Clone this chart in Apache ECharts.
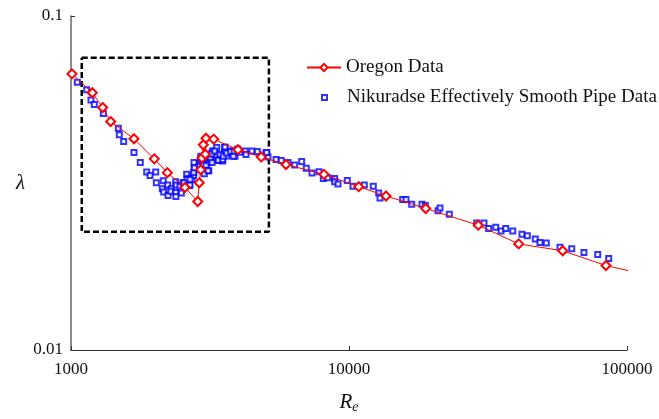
<!DOCTYPE html>
<html>
<head>
<meta charset="utf-8">
<script src="https://cdn.jsdelivr.net/npm/echarts@6/dist/echarts.min.js"></script>
<style>
  html, body { margin: 0; padding: 0; background: #ffffff; }
  #chart { width: 659px; height: 419px; }
</style>
</head>
<body>
<div id="chart"></div>
<script>
// Friction factor vs. Reynolds number (log-log)

// Oregon measurements
const oregonRe = [1008, 1193, 1300, 1389, 1685, 1994, 2221, 2571, 2856, 2894, 2928, 2960, 2992, 3042, 3059, 3262, 3988, 4836, 5934, 8130, 10840, 13590, 18880, 29180, 40770, 58700, 84030];
const oregonLambda = [0.0671, 0.0589, 0.0532, 0.0483, 0.0429, 0.03735, 0.03396, 0.03067, 0.02783, 0.03166, 0.03466, 0.0376, 0.04116, 0.03856, 0.04307, 0.04278, 0.03979, 0.03785, 0.03592, 0.03357, 0.03083, 0.02891, 0.02653, 0.02364, 0.02078, 0.01982, 0.0179];
// the connecting line runs a little past the first and last measurement
const trendStart = [967, 0.0707];
const trendEnd = [103400, 0.01722];

// Nikuradse effectively smooth pipe data
const nikRe = [1054, 1139, 1180, 1213, 1307, 1480, 1492, 1547, 1685, 1775, 1872, 1924, 2017, 2027, 2148, 2130, 2155, 2228, 2295, 2234, 2284, 2380, 2392, 2380, 2385, 2494, 2466, 2535, 2607, 2651, 2614, 2665, 2725, 2763, 2777, 2770, 2763, 2904, 2928, 2985, 3059, 3129, 3137, 3153, 3189, 3216, 3233, 3343, 3371, 3464, 3436, 3513, 3571, 3571, 3631, 3772, 3890, 4054, 4236, 4261, 4477, 4679, 5028, 5112, 5465, 2894, 2936, 2953, 2977, 2992, 3017, 3059, 3111, 3145, 3171, 3207, 3216, 3287, 3388, 3436, 3513, 3530, 3581, 3631, 3753, 3836, 3864, 3978, 2550, 2679, 2679, 2777, 5058, 5706, 6033, 6377, 6758, 7022, 7361, 7800, 8084, 8384, 8881, 8881, 9127, 9860, 10337, 11350, 12230, 12790, 12930, 15600, 16030, 16810, 18310, 18820, 20900, 21250, 22950, 28800, 30590, 31800, 33720, 35240, 36620, 38810, 41910, 43800, 46790, 48640, 51260, 57410, 63260, 70020, 78460, 85940];
const nikLambda = [0.0633, 0.0601, 0.0560, 0.0543, 0.0511, 0.0461, 0.0441, 0.0421, 0.0390, 0.0364, 0.0341, 0.0333, 0.0341, 0.0317, 0.0321, 0.0304, 0.0297, 0.0312, 0.0304, 0.0290, 0.0299, 0.0319, 0.0312, 0.0296, 0.0288, 0.0295, 0.0309, 0.0317, 0.0336, 0.0327, 0.0324, 0.0311, 0.0324, 0.0333, 0.0348, 0.0364, 0.0340, 0.0362, 0.0376, 0.0365, 0.0354, 0.0344, 0.0364, 0.0376, 0.0380, 0.0389, 0.0394, 0.0404, 0.0369, 0.0383, 0.0376, 0.0368, 0.0404, 0.0391, 0.0381, 0.0394, 0.0380, 0.0391, 0.0394, 0.0385, 0.0394, 0.0393, 0.0389, 0.0378, 0.0372, 0.0355, 0.0380, 0.0370, 0.0347, 0.0359, 0.0337, 0.0357, 0.0344, 0.0380, 0.0374, 0.0386, 0.0364, 0.0394, 0.0370, 0.0385, 0.0372, 0.0380, 0.0405, 0.0389, 0.0393, 0.0380, 0.0394, 0.0400, 0.0317, 0.0312, 0.0324, 0.0351, 0.0390, 0.0369, 0.0364, 0.0358, 0.0367, 0.0350, 0.0339, 0.0342, 0.0326, 0.0328, 0.0326, 0.0319, 0.0314, 0.0322, 0.0309, 0.0312, 0.0309, 0.0295, 0.0285, 0.0282, 0.0282, 0.0273, 0.0273, 0.0271, 0.0261, 0.0266, 0.0255, 0.0240, 0.0240, 0.0231, 0.0233, 0.0227, 0.0231, 0.0227, 0.0222, 0.0220, 0.0215, 0.0210, 0.0209, 0.0203, 0.0201, 0.0196, 0.0193, 0.0188];

// transition region highlighted by a dashed box
const boxRe = [1093, 5150];
const boxLambda = [0.075, 0.0226];

// axis tick labels
const xTickLabels = ['1000', '10000', '100000'];
const yTickLabels = ['0.01', '0.1'];

const FONT = '"Liberation Serif", "Times New Roman", serif';

// pick the tick label whose value matches the tick (log scale)
function tickLabel(labels, v) {
  const hit = labels.find(s => Math.abs(Math.log10(Number(s)) - Math.log10(v)) < 0.01);
  return hit || '';
}

const oregonLine = [{ value: trendStart, symbol: 'none' }]
  .concat(oregonRe.map((re, i) => [re, oregonLambda[i]]))
  .concat([{ value: trendEnd, symbol: 'none' }]);
const nikPoints = nikRe.map((re, i) => [re, nikLambda[i]]);
const boxPath = [
  [boxRe[0], boxLambda[0]], [boxRe[1], boxLambda[0]],
  [boxRe[1], boxLambda[1]], [boxRe[0], boxLambda[1]],
  [boxRe[0], boxLambda[0]]
];

const chart = echarts.init(document.getElementById('chart'), null, { renderer: 'canvas' });
chart.setOption({
  animation: false,
  backgroundColor: '#ffffff',
  grid: { left: 71, right: 32, top: 16, bottom: 64, containLabel: false },
  legend: [
    {
      data: ['Oregon Data'],
      orient: 'vertical',
      left: 306, top: 58, padding: 0,
      itemWidth: 34, itemHeight: 9,
      textStyle: { fontFamily: FONT, fontSize: 19, color: '#111' }
    },
    {
      // small square marker centred under the line icon above
      data: ['Nikuradse Effectively Smooth Pipe Data'],
      orient: 'vertical',
      left: 321, top: 88, padding: 0,
      itemWidth: 5, itemHeight: 5,
      textStyle: { fontFamily: FONT, fontSize: 19, color: '#111', padding: [0, 0, 0, 15] }
    }
  ],
  xAxis: {
    type: 'log', logBase: 10, min: 1000, max: 100000,
    name: '{r|R}{s|e}',
    nameLocation: 'middle', nameGap: 41,
    nameTextStyle: {
      rich: {
        r: { fontFamily: FONT, fontStyle: 'italic', fontSize: 21, color: '#111' },
        s: { fontFamily: FONT, fontStyle: 'italic', fontSize: 14, color: '#111', padding: [9, 0, 0, 0] }
      }
    },
    axisLine: { lineStyle: { color: '#333', width: 1 } },
    axisTick: { inside: true, length: 4, lineStyle: { color: '#333' } },
    minorTick: { show: false },
    splitLine: { show: false },
    axisLabel: {
      fontFamily: FONT, fontSize: 17, color: '#111', margin: 11,
      formatter: v => tickLabel(xTickLabels, v)
    }
  },
  yAxis: {
    type: 'log', logBase: 10, min: 0.01, max: 0.1,
    name: 'λ', nameLocation: 'middle', nameRotate: 0, nameGap: 46,
    nameTextStyle: { fontFamily: FONT, fontStyle: 'italic', fontSize: 21, color: '#111', padding: [6, 0, 0, 0] },
    axisLine: { show: true, lineStyle: { color: '#666', width: 1.5 } },
    axisTick: { show: true, inside: true, length: 4, lineStyle: { color: '#333' } },
    splitLine: { show: false },
    axisLabel: {
      fontFamily: FONT, fontSize: 17, color: '#111', margin: 8,
      formatter: v => tickLabel(yTickLabels, v)
    }
  },
  series: [
    {
      name: 'Transition box',
      type: 'line',
      data: boxPath,
      symbol: 'none',
      silent: true,
      lineStyle: { color: '#000', width: 2.5, type: [6, 3] },
      z: 1
    },
    {
      name: 'Nikuradse Effectively Smooth Pipe Data',
      type: 'scatter',
      data: nikPoints,
      symbol: 'emptyRect',
      symbolSize: 5,
      itemStyle: { color: '#0000ff', borderColor: '#0000ff', borderWidth: 1.3 },
      z: 3
    },
    {
      name: 'Oregon Data',
      type: 'line',
      data: oregonLine,
      clip: false,
      symbol: 'emptyDiamond',
      symbolSize: 9,
      showAllSymbol: true,
      lineStyle: { color: '#ff0000', width: 1 },
      itemStyle: { color: '#ff0000', borderColor: '#ff0000', borderWidth: 1.3 },
      z: 4
    }
  ]
});
</script>
</body>
</html>
